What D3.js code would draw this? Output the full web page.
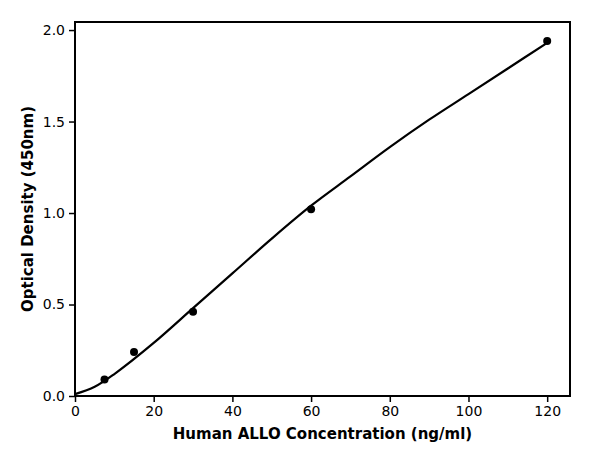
<!DOCTYPE html><html><head><script src="https://cdn.jsdelivr.net/npm/d3@7"></script>
<style>body{margin:0;background:#fff}</style></head><body><svg id="c" width="600" height="450"></svg><script>
const pointX=[7.5,15,30,60,120];
const pointY=[0.09,0.24,0.46,1.02,1.94];
const curveX=[0,5,10,20,30,40,50,60,70,80,90,100,110,120];
const curveY=[0.01,0.05,0.12,0.29,0.48,0.67,0.86,1.04,1.2,1.36,1.51,1.65,1.79,1.93];
const xTicks=[0,20,40,60,80,100,120];
const yTicks=[0,0.5,1.0,1.5,2.0];
const svg=d3.select("#c");
const L=75,R=570,T=22,B=396;
const x=d3.scaleLinear().domain([0,125.8]).range([L,R]);
const y=d3.scaleLinear().domain([0,2.044]).range([B,T]);
svg.append("rect").attr("x",L).attr("y",T).attr("width",R-L).attr("height",B-T).attr("fill","none").attr("stroke","#000").attr("stroke-width",2);
const xa=svg.append("g").attr("transform",`translate(0,${B})`).call(d3.axisBottom(x).tickValues(xTicks).tickFormat(d3.format("d")).tickSize(6).tickPadding(4));
const ya=svg.append("g").attr("transform",`translate(${L},0)`).call(d3.axisLeft(y).tickValues(yTicks).tickFormat(d3.format(".1f")).tickSize(6).tickPadding(4));
[xa,ya].forEach(a=>{a.select(".domain").remove();a.selectAll("line").attr("stroke-width",1.5);a.selectAll("text").attr("font-size",14).attr("font-family","DejaVu Sans");});
svg.append("path").datum(curveX.map((v,i)=>[v,curveY[i]])).attr("d",d3.line().x(d=>x(d[0])).y(d=>y(d[1])).curve(d3.curveCatmullRom)).attr("fill","none").attr("stroke","#000").attr("stroke-width",2.2);
svg.selectAll("circle").data(pointX).join("circle").attr("cx",d=>x(d)).attr("cy",(d,i)=>y(pointY[i])).attr("r",4).attr("fill","#000");
svg.append("text").attr("x",(L+R)/2).attr("y",439).attr("text-anchor","middle").attr("font-size",15).attr("font-weight","bold").attr("font-family","DejaVu Sans").text("Human ALLO Concentration (ng/ml)");
svg.append("text").attr("transform",`translate(33,${(T+B)/2}) rotate(-90)`).attr("text-anchor","middle").attr("font-size",15).attr("font-weight","bold").attr("font-family","DejaVu Sans").text("Optical Density (450nm)");
</script></body></html>
